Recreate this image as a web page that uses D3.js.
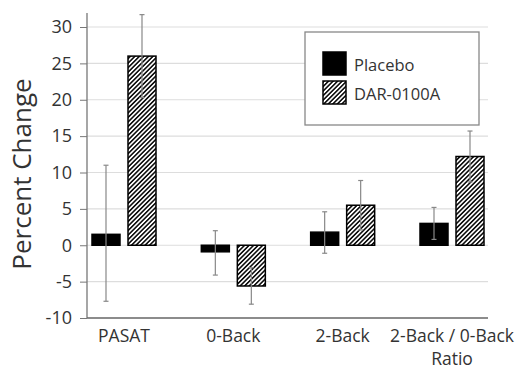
<!DOCTYPE html>
<html>
<head>
<meta charset="utf-8">
<script src="https://cdnjs.cloudflare.com/ajax/libs/d3/7.8.5/d3.min.js"></script>
<style>
  body { margin: 0; background: #fff; }
  svg text { font-family: "Open Sans", sans-serif; fill: #333; }
</style>
</head>
<body>
<div id="chart"></div>
<script>
var categories = ["PASAT", "0-Back", "2-Back", "2-Back / 0-Back|Ratio"];
var seriesNames = ["Placebo", "DAR-0100A"];
var placebo = [1.5, -0.9, 1.8, 3.0];
var placeboHi = [11.0, 2.0, 4.6, 5.2];
var placeboLo = [-7.7, -4.1, -1.1, 0.8];
var dar = [26.0, -5.6, 5.5, 12.2];
var darHi = [31.7, -3.1, 8.9, 15.7];
var darLo = [20.3, -8.1, 2.1, 8.7];
var yTicks = [-10, -5, 0, 5, 10, 15, 20, 25, 30];

var width = 521, height = 369;
var svg = d3.select("#chart").append("svg")
    .attr("width", width)
    .attr("height", height);

var defs = svg.append("defs");
var pat = defs.append("pattern")
    .attr("id", "hatch")
    .attr("patternUnits", "userSpaceOnUse")
    .attr("width", 3.2)
    .attr("height", 3.2)
    .attr("patternTransform", "rotate(45)");
pat.append("rect").attr("width", 3.2).attr("height", 3.2).attr("fill", "#fff");
pat.append("line")
    .attr("x1", 0.8).attr("y1", 0).attr("x2", 0.8).attr("y2", 3.2)
    .attr("stroke", "#000").attr("stroke-width", 1.5);

var left = 87, right = 488;
var y = d3.scaleLinear().domain([-10, 30]).range([318, 27]);
var x = d3.scalePoint().domain(categories).range([124, 452]);
var barW = 28, gap = 8;

// gridlines
svg.append("g").selectAll("line")
    .data(yTicks.slice(1))
    .join("line")
    .attr("x1", left).attr("x2", right)
    .attr("y1", function(d) { return y(d); })
    .attr("y2", function(d) { return y(d); })
    .attr("stroke", "#ddd")
    .attr("stroke-width", 1.2);

// y axis
var yAxis = d3.axisLeft(y).tickValues(yTicks).tickSize(7).tickPadding(8)
    .tickFormat(function(d) { return String(d); });
var gy = svg.append("g").attr("transform", "translate(" + left + ",0)").call(yAxis);
gy.select(".domain").remove();
gy.selectAll(".tick line").attr("stroke", "#777");
gy.selectAll(".tick text").style("font-size", "18px").attr("fill", "#333");
svg.append("line")
    .attr("x1", left).attr("x2", left)
    .attr("y1", 13).attr("y2", y(-10))
    .attr("stroke", "#777").attr("stroke-width", 1.3);

// x axis line
svg.append("line")
    .attr("x1", left).attr("x2", right)
    .attr("y1", y(-10)).attr("y2", y(-10))
    .attr("stroke", "#666").attr("stroke-width", 1.3);

// bars
var rows = categories.map(function(c, i) {
    return [
        { cat: c, s: 0, v: placebo[i], hi: placeboHi[i], lo: placeboLo[i] },
        { cat: c, s: 1, v: dar[i], hi: darHi[i], lo: darLo[i] }
    ];
});
var flat = [].concat.apply([], rows);
function bx(d) {
    return d.s === 0 ? x(d.cat) - gap / 2 - barW : x(d.cat) + gap / 2;
}

svg.append("g").selectAll("rect")
    .data(flat)
    .join("rect")
    .attr("x", bx)
    .attr("width", barW)
    .attr("y", function(d) { return y(Math.max(0, d.v)); })
    .attr("height", function(d) { return Math.abs(y(d.v) - y(0)); })
    .attr("fill", function(d) { return d.s === 0 ? "#000" : "url(#hatch)"; })
    .attr("stroke", "#000")
    .attr("stroke-width", 1.5);

// error bars
var eb = svg.append("g").selectAll("g")
    .data(flat)
    .join("g")
    .attr("transform", function(d) { return "translate(" + (bx(d) + barW / 2) + ",0)"; });
eb.append("line")
    .attr("y1", function(d) { return y(d.hi); })
    .attr("y2", function(d) { return y(d.lo); })
    .attr("stroke", "#888").attr("stroke-width", 1.2);
eb.append("line")
    .attr("x1", -2.5).attr("x2", 2.5)
    .attr("y1", function(d) { return y(d.hi); })
    .attr("y2", function(d) { return y(d.hi); })
    .attr("stroke", "#888").attr("stroke-width", 1.2);
eb.append("line")
    .attr("x1", -2.5).attr("x2", 2.5)
    .attr("y1", function(d) { return y(d.lo); })
    .attr("y2", function(d) { return y(d.lo); })
    .attr("stroke", "#888").attr("stroke-width", 1.2);

// category labels
var lab = svg.append("g").selectAll("text")
    .data(categories)
    .join("text")
    .attr("x", function(d) { return x(d); })
    .attr("y", 342)
    .attr("text-anchor", "middle")
    .style("font-size", "17.5px");
lab.selectAll("tspan")
    .data(function(d) { return d.split("|"); })
    .join("tspan")
    .attr("x", function() { return x(d3.select(this.parentNode).datum()); })
    .attr("dy", function(d, i) { return i === 0 ? 0 : 23; })
    .text(function(d) { return d; });

// y title
svg.append("text")
    .attr("transform", "translate(31,174) rotate(-90)")
    .attr("text-anchor", "middle")
    .style("font-size", "26px")
    .text("Percent Change");

// legend
var lg = svg.append("g");
lg.append("rect")
    .attr("x", 305).attr("y", 32)
    .attr("width", 174).attr("height", 93)
    .attr("fill", "#fff")
    .attr("stroke", "#888")
    .attr("stroke-width", 1.3);
var li = lg.selectAll("g.item")
    .data(seriesNames)
    .join("g")
    .attr("class", "item")
    .attr("transform", function(d, i) { return "translate(323," + (52 + i * 29) + ")"; });
li.append("rect")
    .attr("width", 23).attr("height", 23)
    .attr("fill", function(d, i) { return i === 0 ? "#000" : "url(#hatch)"; })
    .attr("stroke", "#000").attr("stroke-width", 1.5);
li.append("text")
    .attr("x", 31).attr("y", 19)
    .style("font-size", "16.5px")
    .text(function(d) { return d; });
</script>
</body>
</html>
